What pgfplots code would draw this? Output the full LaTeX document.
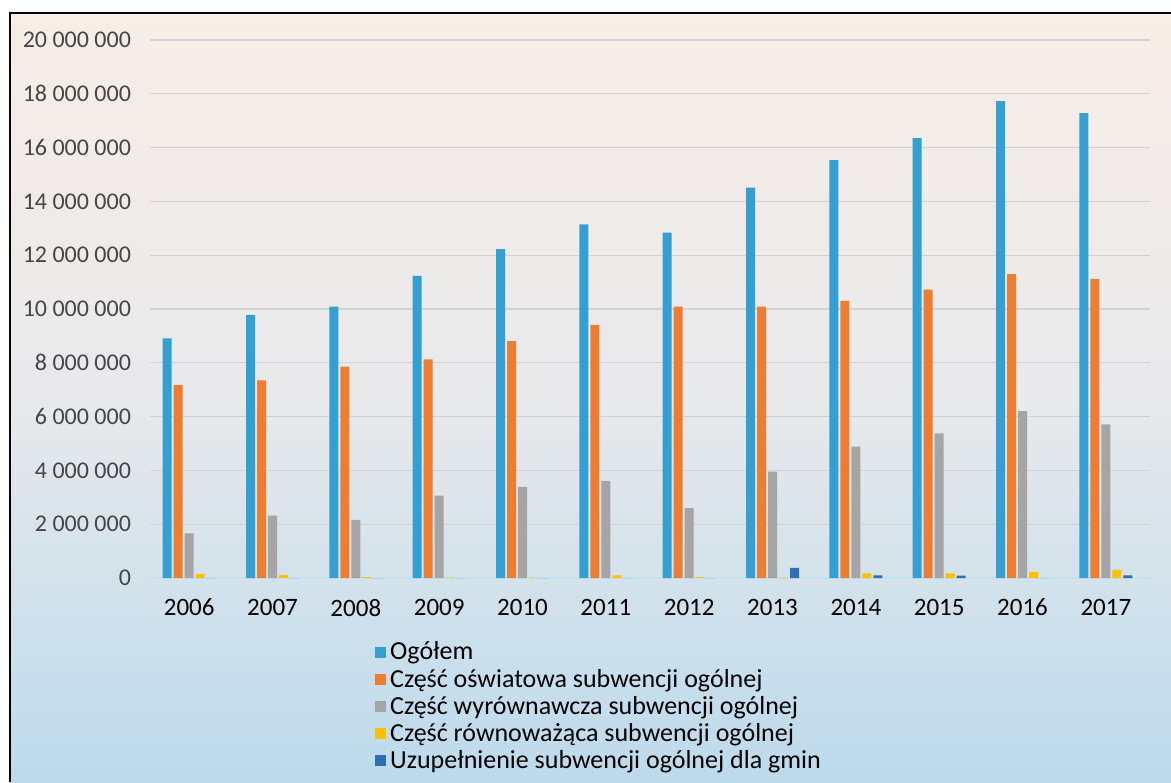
\documentclass[border=0pt]{standalone}
\usepackage{pgfplots}
\pgfplotsset{compat=1.18}
\usepackage{fontspec}
\setmainfont{Carlito}
\definecolor{cA}{RGB}{52,160,210}
\definecolor{cB}{RGB}{237,125,49}
\definecolor{cC}{RGB}{165,165,165}
\definecolor{cD}{RGB}{255,192,0}
\definecolor{cE}{RGB}{46,110,178}
\definecolor{bgtop}{RGB}{248,237,231}
\definecolor{bgmid}{RGB}{232,233,235}
\definecolor{bgbot}{RGB}{188,218,236}
\definecolor{gridc}{RGB}{210,210,212}
\definecolor{ticktxt}{RGB}{70,70,70}
\begin{document}
\begin{tikzpicture}
\useasboundingbox (0,0) rectangle (585.5pt,391pt);
\shade[top color=bgtop, bottom color=bgbot, middle color=bgmid] (5pt,0) rectangle (585.5pt,384.5pt);
\draw[black, line width=1pt] (5pt,0) -- (5pt,384.5pt) -- (585.5pt,384.5pt);
\begin{axis}[
  at={(75pt,102pt)}, anchor=south west, scale only axis,
  width=500pt, height=269pt,
  xmin=-0.47, xmax=11.53, ymin=0, ymax=20000000,
  scaled y ticks=false,
  axis line style={draw=none},
  ybar=1pt, bar width=4.5pt,
  xtick={0,...,11},
  xticklabels={2006,2007,2008,2009,2010,2011,2012,2013,2014,2015,2016,2017},
  ytick={0,2000000,4000000,6000000,8000000,10000000,12000000,14000000,16000000,18000000,20000000},
  yticklabels={0,2 000 000,4 000 000,6 000 000,8 000 000,10 000 000,12 000 000,14 000 000,16 000 000,18 000 000,20 000 000},
  /pgf/number format/assume math mode=true,
  major tick length=0pt,
  tick style={draw=none},
  ymajorgrids, grid style={gridc, line width=0.6pt},
  xticklabel style={font=\fontsize{12.5}{14}\selectfont, text=black, yshift=-7pt},
  yticklabel style={font=\fontsize{12}{14}\selectfont, text=ticktxt, xshift=-6pt},
  extra y ticks={0}, extra y tick labels={}, extra y tick style={grid style={draw=white!70!cA, line width=0.8pt}},
  legend style={at={(0.225,-0.1106)}, anchor=north west, draw=none, fill=none,
    font=\fontsize{13}{13.5}\selectfont, inner sep=0pt, row sep=-1pt},
  legend cell align=left,
  legend image code/.code={\fill[#1] (0pt,-2.7pt) rectangle (5.4pt,2.7pt);},
]
\addplot[fill=cA, draw=none] coordinates {(0,8910000) (1,9780000) (2,10090000) (3,11230000) (4,12230000) (5,13150000) (6,12840000) (7,14510000) (8,15530000) (9,16350000) (10,17730000) (11,17280000)};
\addplot[fill=cB, draw=none] coordinates {(0,7170000) (1,7350000) (2,7860000) (3,8130000) (4,8810000) (5,9410000) (6,10090000) (7,10090000) (8,10300000) (9,10720000) (10,11300000) (11,11120000)};
\addplot[fill=cC, draw=none] coordinates {(0,1660000) (1,2320000) (2,2160000) (3,3060000) (4,3390000) (5,3610000) (6,2600000) (7,3950000) (8,4880000) (9,5380000) (10,6200000) (11,5710000)};
\addplot[fill=cD, draw=none] coordinates {(0,150000) (1,110000) (2,30000) (3,10000) (4,10000) (5,100000) (6,30000) (7,10000) (8,170000) (9,170000) (10,230000) (11,300000)};
\addplot[fill=cE, draw=none] coordinates {(0,0) (1,0) (2,0) (3,0) (4,0) (5,0) (6,0) (7,380000) (8,100000) (9,90000) (10,0) (11,100000)};
\legend{Ogółem, Część oświatowa subwencji ogólnej, Część wyrównawcza subwencji ogólnej, Część równoważąca subwencji ogólnej, Uzupełnienie subwencji ogólnej dla gmin}
\end{axis}
\end{tikzpicture}
\end{document}
